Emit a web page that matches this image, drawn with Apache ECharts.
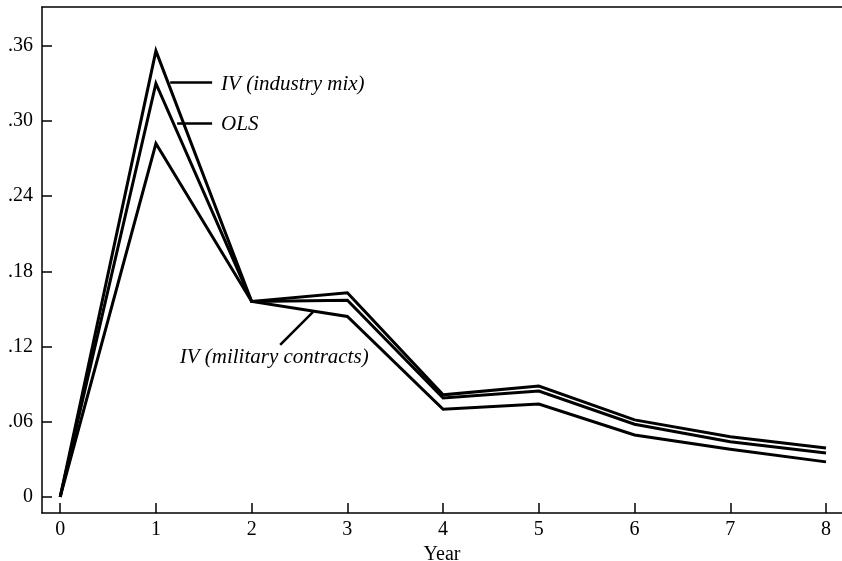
<!DOCTYPE html>
<html>
<head>
<meta charset="utf-8">
<script src="https://cdn.jsdelivr.net/npm/echarts@6/dist/echarts.min.js"></script>
<style>html,body{margin:0;padding:0;background:#fff;}#c{width:842px;height:561px;}</style>
</head>
<body>
<div id="c"></div>
<script>
const years = [0, 1, 2, 3, 4, 5, 6, 7, 8];
const yTicks = [0, 0.06, 0.12, 0.18, 0.24, 0.30, 0.36];
const ivIndustry = [0, 0.356, 0.156, 0.163, 0.0815, 0.0885, 0.0615, 0.048, 0.039];
const ols = [0, 0.330, 0.156, 0.157, 0.079, 0.0845, 0.058, 0.044, 0.035];
const ivMilitary = [0, 0.282, 0.156, 0.144, 0.070, 0.0742, 0.0495, 0.038, 0.028];
const labelIndustry = 'IV (industry mix)';
const labelOLS = 'OLS';
const labelMilitary = 'IV (military contracts)';

const FONT = '"Liberation Serif", "DejaVu Serif", serif';
const chart = echarts.init(document.getElementById('c'), null, {renderer: 'canvas'});

function pairs(vals) { return years.map((y, i) => [y, vals[i]]); }

function annot(name, vals, leader, textAt, pos) {
  return {
    name: name,
    type: 'line',
    data: pairs(vals),
    symbol: 'none',
    lineStyle: {color: '#000', width: 3, join: 'miter', miterLimit: 20},
    animation: false,
    silent: true,
    markLine: {
      silent: true,
      symbol: ['none', 'none'],
      lineStyle: {color: '#000', width: 2.5, type: 'solid'},
      label: {show: false},
      data: [[{coord: leader[0]}, {coord: leader[1]}]],
      animation: false
    },
    markPoint: {
      silent: true,
      symbol: 'circle',
      symbolSize: 0,
      itemStyle: {color: 'rgba(0,0,0,0)'},
      label: {
        show: true, position: pos, distance: 9, formatter: name,
        color: '#000', fontFamily: FONT, fontStyle: 'italic', fontSize: 21
      },
      data: [{coord: textAt}],
      animation: false
    }
  };
}

chart.setOption({
  animation: false,
  backgroundColor: '#fff',
  grid: {left: 42, right: 0, top: 7, bottom: 48, containLabel: false, outerBoundsMode: 'none'},
  xAxis: [{
    type: 'value', min: -0.19, max: 8.167,
    name: 'Year', nameLocation: 'middle', nameGap: 30,
    nameTextStyle: {color: '#000', fontFamily: FONT, fontSize: 20},
    axisLine: {show: true, onZero: false, lineStyle: {color: '#000', width: 1.5}},
    axisTick: {show: true, inside: true, length: 10, customValues: years, lineStyle: {color: '#000', width: 1.5}},
    axisLabel: {customValues: years, color: '#000', fontFamily: FONT, fontSize: 20, margin: 7},
    splitLine: {show: false}
  }, {
    type: 'value', min: -0.19, max: 8.167, position: 'top',
    axisLine: {show: true, onZero: false, lineStyle: {color: '#000', width: 1.5}},
    axisTick: {show: false}, axisLabel: {show: false}, splitLine: {show: false}
  }],
  yAxis: {
    type: 'value', min: -0.0128, max: 0.391,
    axisLine: {show: true, onZero: false, lineStyle: {color: '#000', width: 1.5}},
    axisTick: {show: true, inside: true, length: 10, customValues: yTicks, lineStyle: {color: '#000', width: 1.5}},
    axisLabel: {
      customValues: yTicks, color: '#000', fontFamily: FONT, fontSize: 20, margin: 9,
      formatter: v => (Math.abs(v) < 1e-9 ? '0' : v.toFixed(2).replace(/^0/, ''))
    },
    splitLine: {show: false}
  },
  series: [
    annot(labelIndustry, ivIndustry, [[1.149, 0.331], [1.587, 0.331]], [1.587, 0.329], 'right'),
    annot(labelOLS, ols, [[1.222, 0.2985], [1.587, 0.2985]], [1.587, 0.2975], 'right'),
    annot(labelMilitary, ivMilitary, [[2.642, 0.1477], [2.298, 0.1213]], [2.235, 0.1110], 'inside')
  ]
});
</script>
</body>
</html>
